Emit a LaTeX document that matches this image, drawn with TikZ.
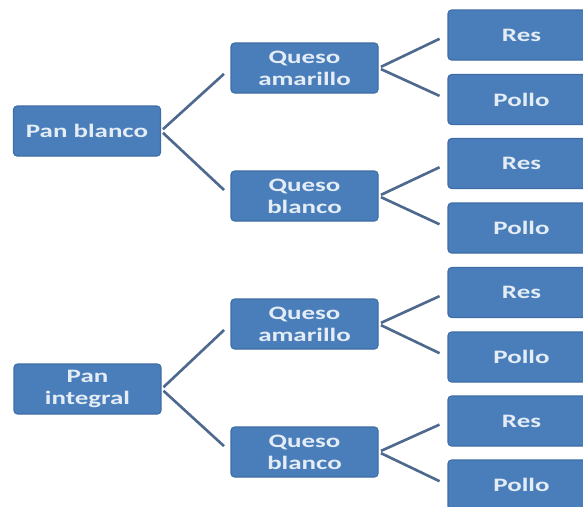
\documentclass[tikz,border=0pt]{standalone}
\usepackage{fontspec}
\usepackage{tikz}
\newfontfamily\boxfont{Carlito}
\definecolor{boxblue}{RGB}{74,126,187}
\definecolor{boxedge}{RGB}{62,108,165}
\definecolor{linkcol}{RGB}{78,104,142}
\newcommand{\wt}[1]{\scalebox{1.42}[1]{#1}}
\tikzset{every tree node/.style={rectangle, rounded corners=2pt, fill=boxblue, draw=boxedge, line width=0.6pt,
    minimum width=2.94cm, minimum height=1cm, inner sep=0pt, align=center, text=white!85!boxblue,
    font=\boxfont\bfseries\fontsize{10.8}{12.6}\selectfont}}
\tikzset{link/.style={linkcol, line width=1.5pt, shorten <=1.5pt, shorten >=5pt}}

\begin{document}
\begin{tikzpicture}
\useasboundingbox (0,0) rectangle (11.66,-10.12);
\clip (0,0) rectangle (11.66,-10.12);
% bread
\node[every tree node] (pb) at (1.74,-2.62) {\wt{Pan blanco}};
\node[every tree node] (pi) at (1.75,-7.78) {\wt{Pan}\\\wt{integral}};
% cheese
\node[every tree node] (qa1) at (6.09,-1.36) {\wt{Queso}\\\wt{amarillo}};
\node[every tree node] (qb1) at (6.09,-3.92) {\wt{Queso}\\\wt{blanco}};
\node[every tree node] (qa2) at (6.09,-6.48) {\wt{Queso}\\\wt{amarillo}};
\node[every tree node] (qb2) at (6.09,-9.04) {\wt{Queso}\\\wt{blanco}};
% meat
\node[every tree node] (r1) at (10.43,-0.70) {\wt{Res}};
\node[every tree node] (p1) at (10.43,-1.99) {\wt{Pollo}};
\node[every tree node] (r2) at (10.43,-3.27) {\wt{Res}};
\node[every tree node] (p2) at (10.43,-4.56) {\wt{Pollo}};
\node[every tree node] (r3) at (10.43,-5.85) {\wt{Res}};
\node[every tree node] (p3) at (10.43,-7.14) {\wt{Pollo}};
\node[every tree node] (r4) at (10.43,-8.42) {\wt{Res}};
\node[every tree node] (p4) at (10.43,-9.70) {\wt{Pollo}};
\draw[link] (pb.east) -- (qa1.west);
\draw[link] (pb.east) -- (qb1.west);
\draw[link] (pi.east) -- (qa2.west);
\draw[link] (pi.east) -- (qb2.west);
\draw[link] (qa1.east) -- (r1.west);
\draw[link] (qa1.east) -- (p1.west);
\draw[link] (qb1.east) -- (r2.west);
\draw[link] (qb1.east) -- (p2.west);
\draw[link] (qa2.east) -- (r3.west);
\draw[link] (qa2.east) -- (p3.west);
\draw[link] (qb2.east) -- (r4.west);
\draw[link] (qb2.east) -- (p4.west);
\end{tikzpicture}
\end{document}
